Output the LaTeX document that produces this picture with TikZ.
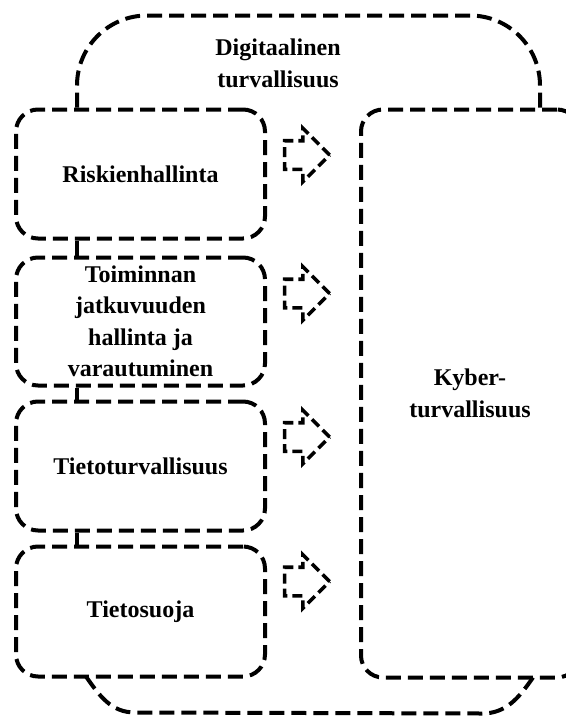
\documentclass[tikz,border=0pt]{standalone}
\usepackage{fontspec}
\setmainfont{Liberation Serif}
\usetikzlibrary{positioning, calc, shapes.arrows}

\begin{document}
\begin{tikzpicture}[
    font=\bfseries\fontsize{12}{15.75}\selectfont,
    dash box/.style={line width=2pt, dash pattern=on 7.5pt off 3.5pt},
    b/.style={dash box, draw, rectangle, rounded corners=11pt, minimum width=124.5pt, minimum height=64.5pt, align=center},
    blockarrow/.style={draw, single arrow, line width=1.8pt, dash pattern=on 5pt off 2.5pt, minimum height=22.5pt, minimum width=25pt, single arrow head extend=6.25pt, inner xsep=0pt, inner ysep=6.25pt}]
    \useasboundingbox (0,0) rectangle (283pt,-359pt);

    \node [b] (R) at (70.25pt,-87pt) {Riskienhallinta};
    \node [b, below=7.5pt of R, minimum height=64pt] (T) {Toiminnan\\jatkuvuuden\\hallinta ja\\varautuminen};
    \node [b, below=6pt of T] (S) {Tietoturvallisuus};
    \node [b, below=6pt of S, minimum height=65pt] (P) {Tietosuoja};
    \node [b, anchor=north west, minimum width=109pt, minimum height=284pt] (K) at ($(R.north east)+(46pt,0)$) {Kyber-\\turvallisuus};

    \node [blockarrow] (a1) at ($(R.east)+(16.5pt,9.5pt)$) {};
    \node [blockarrow] (a2) at ($(T.east)+(16.5pt,14pt)$) {};
    \node [blockarrow] (a3) at ($(S.east)+(16.5pt,14.5pt)$) {};
    \node [blockarrow] (a4) at ($(P.east)+(16.5pt,15pt)$) {};

    \coordinate (tl) at ($(R.north west)+(31.5pt,0)$);
    \coordinate (tr) at ($(K.north west)+(90.5pt,0)$);
    \coordinate (bl) at ($(P.south west)+(36pt,1pt)$);
    \coordinate (br) at ($(K.south west)+(87pt,1pt)$);

    \draw [dash box, rounded corners=35pt] (tl) |- ($(tr)+(0,46pt)$) -- (tr);
    \draw [dash box] (bl) to[out=-55, in=180] ($(bl)+(24.5pt,-18pt)$) -- ($(br)+(-25.5pt,-18pt)$) to[out=0, in=-125] (br);
    \node [align=center] at ($(tl)+(100.5pt,22pt)$) {Digitaalinen\\turvallisuus};

    \draw [dash box] (tl |- R.south) -- (tl |- T.north);
    \draw [dash box] (tl |- T.south) -- (tl |- S.north);
    \draw [dash box] (tl |- S.south) -- (tl |- P.north);
\end{tikzpicture}
\end{document}
